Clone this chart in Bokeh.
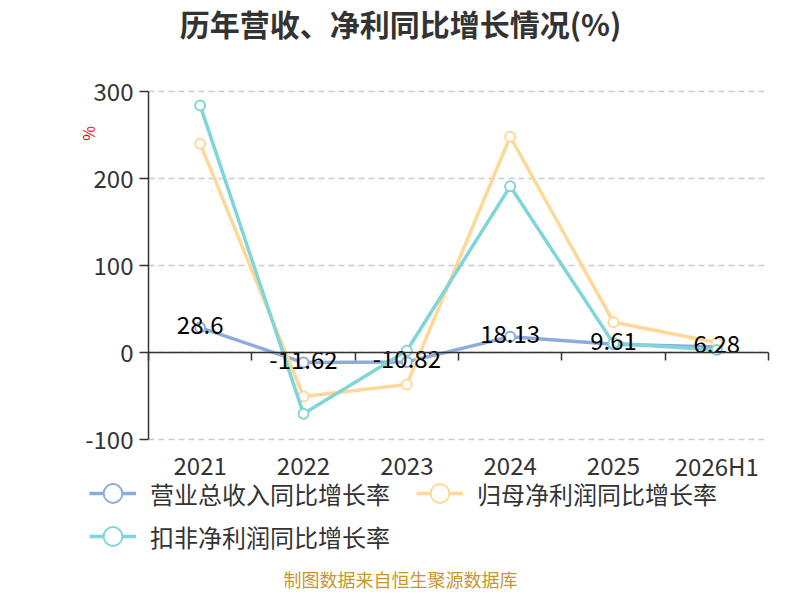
import numpy as np
from bokeh.plotting import figure
from bokeh.models import Range1d, LinearAxis, FixedTicker, Legend, LegendItem, Label, ColumnDataSource
from bokeh.core.properties import value
from bokeh.embed import file_html
from bokeh.resources import INLINE

categories = ["2021", "2022", "2023", "2024", "2025", "2026H1"]
revenue = [28.6, -11.62, -10.82, 18.13, 9.61, 6.28]
net_profit = [240.0, -50.5, -36.8, 248.0, 34.8, 11.5]
deducted = [284.0, -70.5, 2.0, 191.0, 10.5, 3.0]
y_ticks = [-100, 0, 100, 200, 300]
series_names = ["营业总收入同比增长率", "归母净利润同比增长率", "扣非净利润同比增长率"]
colors = ["#8eabdd", "#ffd898", "#80d5d8"]

FONT = "Noto Sans CJK SC"
W, H = 792, 592
n = len(categories)

# layout: plot area in canvas pixels
PL, PR, PT, PB = 148, 768, 91, 439
ymin, ymax = min(y_ticks), max(y_ticks)
sx = (PR - PL) / n              # px per category
sy = (PB - PT) / (ymax - ymin)  # px per y unit

def X(px):
    return (px - PL) / sx

def Y(py):
    return ymax - (py - PT) / sy

xs = np.arange(n) + 0.5

p = figure(width=W, height=H, x_range=Range1d(X(0), X(W)), y_range=Range1d(Y(H), Y(0)),
           output_backend="svg", toolbar_location=None, x_axis_type=None, y_axis_type=None,
           min_border=0)
p.outline_line_color = None
p.background_fill_color = "white"
p.border_fill_color = "white"

# dashed grid lines over the plot area
p.segment(x0=0, x1=n, y0=y_ticks, y1=y_ticks, line_color="#cccccc", line_width=1.5,
          line_dash="6 4")

# y axis
yaxis = LinearAxis(ticker=FixedTicker(ticks=y_ticks), fixed_location=0, bounds=(ymin, ymax),
                   major_label_overrides={t: str(t) for t in y_ticks})
yaxis.axis_line_color = "#333333"
yaxis.axis_line_width = 1.5
yaxis.major_tick_line_color = "#333333"
yaxis.major_tick_line_width = 1.5
yaxis.major_tick_in = 0
yaxis.major_tick_out = 9
yaxis.minor_tick_line_color = None
yaxis.major_label_text_font_size = "24px"
yaxis.major_label_text_font = FONT
yaxis.major_label_text_color = "#333333"
yaxis.major_label_standoff = 6
p.add_layout(yaxis, "left")

# x axis line at zero with boundary ticks
zaxis = LinearAxis(ticker=FixedTicker(ticks=list(range(n + 1))), fixed_location=0, bounds=(0, n))
zaxis.axis_line_color = "#333333"
zaxis.axis_line_width = 1.5
zaxis.major_tick_line_color = "#333333"
zaxis.major_tick_line_width = 1.5
zaxis.major_tick_in = 0
zaxis.major_tick_out = 8
zaxis.minor_tick_line_color = None
zaxis.major_label_text_color = None
zaxis.major_label_text_font_size = "1px"
p.add_layout(zaxis, "below")

# category labels below the plot area
p.text(xs, [ymin] * n, text=categories, text_align="center", text_baseline="middle",
       y_offset=26, text_font=value(FONT), text_font_size="24px", text_color="#333333")

items = []
for name, vals, col in zip(series_names, [revenue, net_profit, deducted], colors):
    src = ColumnDataSource(dict(x=xs, y=vals))
    r1 = p.line("x", "y", source=src, line_color=col, line_width=3.5)
    r2 = p.scatter("x", "y", source=src, marker="circle", size=10, fill_color="white",
                   line_color=col, line_width=2)
    items.append(LegendItem(label=name, renderers=[r1, r2]))

labels = [str(v) for v in revenue]
p.text(xs, revenue, text=labels, text_align="center", text_baseline="middle", y_offset=-3,
       text_font=value(FONT), text_font_size="24px", text_color="black")

def style_legend(lg):
    lg.orientation = "horizontal"
    lg.border_line_color = None
    lg.background_fill_alpha = 0
    lg.padding = 0
    lg.margin = 0
    lg.spacing = 26
    lg.glyph_width = 47
    lg.glyph_height = 52
    lg.label_standoff = 14
    lg.label_height = 30
    lg.label_text_font = FONT
    lg.label_text_font_size = "24px"
    lg.label_text_color = "#333333"
    lg.label_text_baseline = "middle"

lg1 = Legend(items=items[:2], location=(89, H - 519))
lg2 = Legend(items=items[2:], location=(89, H - 562))
style_legend(lg1)
style_legend(lg2)
p.add_layout(lg1)
p.add_layout(lg2)

title = Label(x=X(400), y=Y(22), text="历年营收、净利同比增长情况(%)",
              text_align="center", text_baseline="middle", text_font=FONT,
              text_font_size="30px", text_font_style="bold", text_color="#333333")
p.add_layout(title)

footer = Label(x=X(400), y=Y(578), text="制图数据来自恒生聚源数据库",
               text_align="center", text_baseline="middle", text_font=FONT,
               text_font_size="18px", text_color="#c9962b")
p.add_layout(footer)

unit = Label(x=X(87), y=Y(133), text="%", angle=np.pi / 2,
             text_align="center", text_baseline="middle", text_font=FONT,
             text_font_size="16px", text_color="red")
p.add_layout(unit)

open("out.html", "w").write(file_html(p, INLINE))
